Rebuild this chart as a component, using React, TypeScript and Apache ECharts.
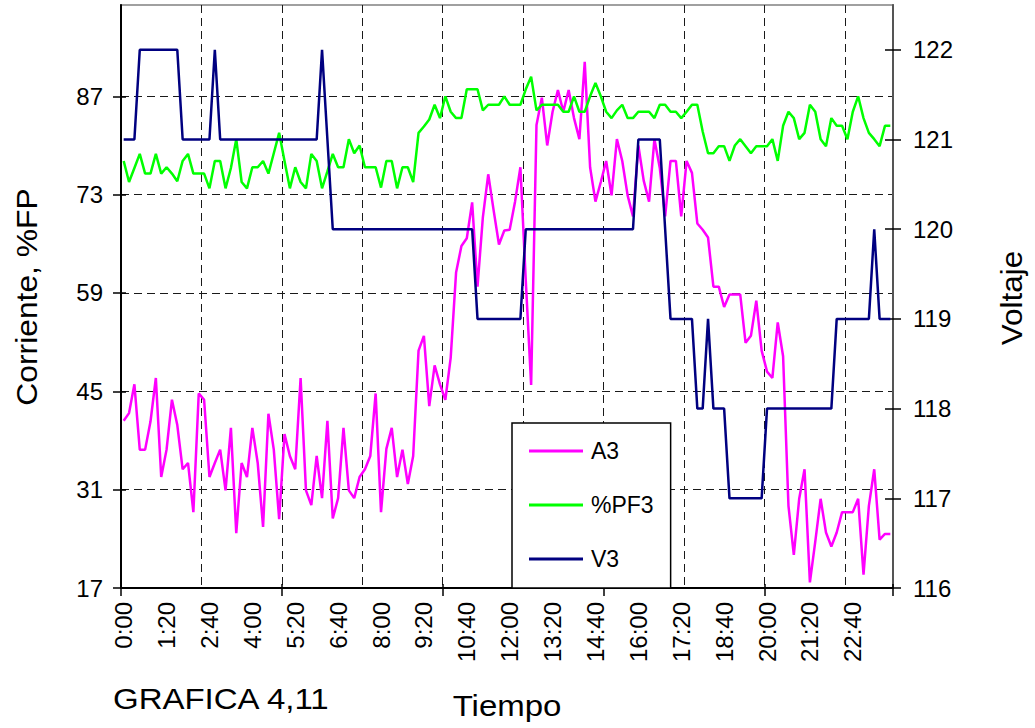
import React, { useEffect, useRef } from "react";
import * as echarts from "echarts";

const FONT = "'Liberation Sans', Arial, Helvetica, sans-serif";

// 10-minute sampling over one day: 0:00 ... 23:50
const TIMES: string[] = (() => {
  const out: string[] = [];
  for (let i = 0; i < 144; i++) {
    const m = i * 10;
    out.push(`${Math.floor(m / 60)}:${String(m % 60).padStart(2, "0")}`);
  }
  return out;
})();

const LEFT_TICKS = [17, 31, 45, 59, 73, 87];
const RIGHT_TICKS = [116, 117, 118, 119, 120, 121, 122];

const A3 = [
  40.8, 41.9, 46.0, 36.7, 36.7, 40.7, 46.9, 32.8, 36.7, 43.8,
  40.2, 33.9, 34.8, 27.8, 44.7, 43.8, 32.8, 34.8, 36.7, 30.9,
  39.8, 24.8, 34.8, 32.8, 39.8, 34.8, 25.7, 41.8, 36.7, 26.8,
  38.9, 35.8, 33.9, 46.9, 30.9, 28.8, 35.8, 29.8, 40.8, 26.9,
  29.8, 39.8, 30.9, 29.8, 32.8, 33.9, 35.8, 44.7, 27.8, 36.8,
  39.8, 32.8, 36.7, 31.8, 35.8, 50.8, 52.9, 42.9, 48.7, 46.0,
  43.8, 49.8, 61.9, 65.7, 66.8, 71.9, 59.9, 69.8, 75.9, 70.8,
  65.9, 67.9, 68.0, 72.0, 76.9, 60.8, 45.9, 82.9, 86.8, 80.0,
  84.8, 87.9, 84.8, 87.9, 83.9, 80.9, 91.9, 76.9, 72.0, 74.8,
  77.8, 72.9, 80.9, 77.8, 72.9, 69.9, 80.0, 75.0, 72.0, 80.9,
  76.8, 69.9, 77.8, 77.8, 69.9, 77.8, 76.1, 68.9, 68.0, 66.9,
  59.9, 59.9, 57.0, 58.8, 58.8, 58.8, 51.9, 52.9, 57.9, 50.8,
  47.8, 46.9, 54.8, 50.0, 28.7, 21.7, 29.7, 33.9, 17.8, 23.6,
  29.7, 24.9, 22.9, 24.9, 27.8, 27.8, 27.8, 29.7, 18.9, 28.7,
  33.9, 23.9, 24.7, 24.7,
];

const PF3 = [
  77.8, 74.8, 76.8, 78.8, 76.0, 76.0, 78.8, 76.0, 76.9, 76.0,
  74.9, 77.8, 78.8, 76.0, 76.0, 76.0, 73.9, 77.8, 77.8, 73.9,
  76.8, 80.9, 74.8, 73.9, 76.9, 76.9, 77.8, 76.0, 78.9, 81.8,
  77.8, 73.9, 76.9, 74.8, 73.9, 78.8, 77.8, 73.9, 76.3, 78.8,
  76.9, 76.9, 80.9, 78.9, 80.0, 76.9, 76.9, 76.9, 74.0, 77.8,
  77.8, 73.9, 76.9, 76.9, 74.8, 81.8, 82.7, 83.7, 85.8, 83.9,
  87.0, 84.8, 83.9, 83.9, 88.0, 88.0, 88.0, 85.0, 85.8, 85.8,
  85.8, 87.0, 85.8, 85.8, 85.8, 88.0, 89.8, 85.0, 85.8, 85.8,
  85.8, 85.8, 84.8, 84.8, 87.0, 84.8, 84.8, 87.0, 88.9, 87.0,
  84.8, 83.9, 85.0, 85.8, 83.9, 83.9, 84.8, 84.8, 84.8, 83.9,
  85.8, 85.8, 84.8, 84.8, 83.9, 84.8, 85.8, 85.8, 82.0, 78.9,
  78.9, 79.9, 79.9, 77.8, 80.0, 80.9, 79.9, 78.9, 79.9, 79.9,
  79.9, 80.9, 77.8, 82.8, 84.8, 83.9, 80.9, 81.8, 85.8, 84.8,
  80.9, 79.9, 83.9, 82.8, 82.8, 80.9, 84.8, 87.0, 83.9, 81.8,
  80.9, 79.9, 82.8, 82.8,
];

const V3 = [
  121, 121, 121, 122, 122, 122, 122, 122, 122, 122,
  122, 121, 121, 121, 121, 121, 121, 122, 121, 121,
  121, 121, 121, 121, 121, 121, 121, 121, 121, 121,
  121, 121, 121, 121, 121, 121, 121, 122, 121, 120,
  120, 120, 120, 120, 120, 120, 120, 120, 120, 120,
  120, 120, 120, 120, 120, 120, 120, 120, 120, 120,
  120, 120, 120, 120, 120, 120, 119, 119, 119, 119,
  119, 119, 119, 119, 119, 120, 120, 120, 120, 120,
  120, 120, 120, 120, 120, 120, 120, 120, 120, 120,
  120, 120, 120, 120, 120, 120, 121, 121, 121, 121,
  121, 120, 119, 119, 119, 119, 119, 118, 118, 119,
  118, 118, 118, 117, 117, 117, 117, 117, 117, 117,
  118, 118, 118, 118, 118, 118, 118, 118, 118, 118,
  118, 118, 118, 119, 119, 119, 119, 119, 119, 119,
  120, 119, 119, 119,
];

const SERIES_NAMES = ["A3", "%PF3", "V3"];
const COLORS = ["#FF00FF", "#00FF00", "#000080"];

const gridDash = { color: "#1a1a1a", width: 1, type: [8, 5] as number[] };

function titleText(text: string, x: number, y: number, size: number, stretch: number, rotated: boolean, align: string) {
  return {
    type: "text",
    x,
    y,
    rotation: rotated ? Math.PI / 2 : 0,
    scaleX: stretch,
    style: {
      text,
      fontSize: size,
      fontFamily: FONT,
      fill: "#000",
      textAlign: align,
      textVerticalAlign: "middle",
      align,
      verticalAlign: "middle",
    },
  };
}

function buildOption(): any {
  const labelStyle = { fontSize: 24, color: "#000", fontFamily: FONT };
  return {
    animation: false,
    backgroundColor: "#fff",
    textStyle: { fontFamily: FONT, color: "#000" },
    grid: {
      left: 121,
      right: 142,
      top: 5,
      bottom: 140,
      show: true,
      borderColor: "#a0a0a0",
      borderWidth: 2,
      backgroundColor: "transparent",
      containLabel: false,
      outerBoundsMode: "none",
    },
    legend: {
      data: SERIES_NAMES,
      orient: "vertical",
      left: 512,
      top: 423,
      padding: [15, 17, 16, 17],
      itemGap: 28,
      itemWidth: 54,
      itemHeight: 3,
      icon: "rect",
      backgroundColor: "#fff",
      borderColor: "#000",
      borderWidth: 1.5,
      borderRadius: 0,
      textStyle: { fontSize: 23, lineHeight: 26, color: "#000", fontFamily: FONT, padding: [0, 0, 0, 3] },
    },
    xAxis: [
      {
        type: "category",
        data: TIMES,
        boundaryGap: true,
        position: "bottom",
        axisLine: { show: true, lineStyle: { color: "#000", width: 2 } },
        axisTick: { show: true, interval: 29, length: 8, lineStyle: { color: "#000", width: 1.5 } },
        axisLabel: { ...labelStyle, interval: 7, rotate: 90, margin: 14 },
        splitLine: { show: true, interval: 14, lineStyle: gridDash },
      },
      {
        type: "category",
        data: TIMES,
        boundaryGap: true,
        position: "bottom",
        axisLine: { show: false },
        axisTick: { show: true, inside: true, interval: 29, length: 4, lineStyle: { color: "#000", width: 1.5 } },
        axisLabel: { show: false },
        splitLine: { show: false },
      },
    ],
    yAxis: [
      {
        type: "value",
        min: 17,
        max: 100,
        interval: 14,
        position: "left",
        axisLine: { show: true, lineStyle: { color: "#000", width: 2 } },
        axisTick: { show: true, length: 8, customValues: LEFT_TICKS, lineStyle: { color: "#000", width: 1.5 } },
        axisLabel: {
          ...labelStyle,
          margin: 18,
          customValues: LEFT_TICKS,
          formatter: (v: number) => (LEFT_TICKS.includes(v) ? String(v) : ""),
        },
        splitLine: { show: true, lineStyle: gridDash },
      },
      {
        type: "value",
        min: 116,
        max: 122.5,
        interval: 1,
        position: "right",
        axisLine: { show: true, lineStyle: { color: "#555", width: 2 } },
        axisTick: { show: true, length: 8, customValues: RIGHT_TICKS, lineStyle: { color: "#000", width: 1.5 } },
        axisLabel: {
          ...labelStyle,
          margin: 20,
          customValues: RIGHT_TICKS,
          formatter: (v: number) => (RIGHT_TICKS.includes(v) ? String(v) : ""),
        },
        splitLine: { show: false },
      },
      {
        type: "value",
        min: 17,
        max: 100,
        interval: 14,
        position: "left",
        axisLine: { show: false },
        axisTick: { show: true, inside: true, length: 5, customValues: LEFT_TICKS, lineStyle: { color: "#000", width: 1.5 } },
        axisLabel: { show: false },
        splitLine: { show: false },
      },
      {
        type: "value",
        min: 116,
        max: 122.5,
        interval: 1,
        position: "right",
        axisLine: { show: false },
        axisTick: { show: true, inside: true, length: 8, customValues: RIGHT_TICKS, lineStyle: { color: "#000", width: 1.5 } },
        axisLabel: { show: false },
        splitLine: { show: false },
      },
    ],
    series: [
      {
        name: SERIES_NAMES[0],
        type: "line",
        data: A3,
        yAxisIndex: 0,
        symbol: "none",
        lineStyle: { color: COLORS[0], width: 2.5 },
        itemStyle: { color: COLORS[0] },
        z: 3,
      },
      {
        name: SERIES_NAMES[1],
        type: "line",
        data: PF3,
        yAxisIndex: 0,
        symbol: "none",
        lineStyle: { color: COLORS[1], width: 2.5 },
        itemStyle: { color: COLORS[1] },
        z: 3,
      },
      {
        name: SERIES_NAMES[2],
        type: "line",
        data: V3,
        yAxisIndex: 1,
        symbol: "none",
        lineStyle: { color: COLORS[2], width: 2.5 },
        itemStyle: { color: COLORS[2] },
        z: 3,
      },
    ],
    graphic: [
      titleText("Corriente, %FP", 27, 297, 30, 1.06, true, "center"),
      titleText("Voltaje", 1012, 298, 30, 1.05, true, "center"),
      titleText("Tiempo", 507, 706, 30, 1.1, false, "center"),
      titleText("GRAFICA 4,11", 113, 699, 30, 1.1, false, "left"),
    ],
  };
}

export default function App() {
  const ref = useRef<HTMLDivElement | null>(null);
  useEffect(() => {
    if (!ref.current) return;
    const chart = echarts.init(ref.current, undefined, { renderer: "svg" });
    chart.setOption(buildOption());
    return () => chart.dispose();
  }, []);
  return (
    <div
      ref={ref}
      style={{ position: "fixed", left: 0, top: 0, width: 1035, height: 728, background: "#fff" }}
    />
  );
}
